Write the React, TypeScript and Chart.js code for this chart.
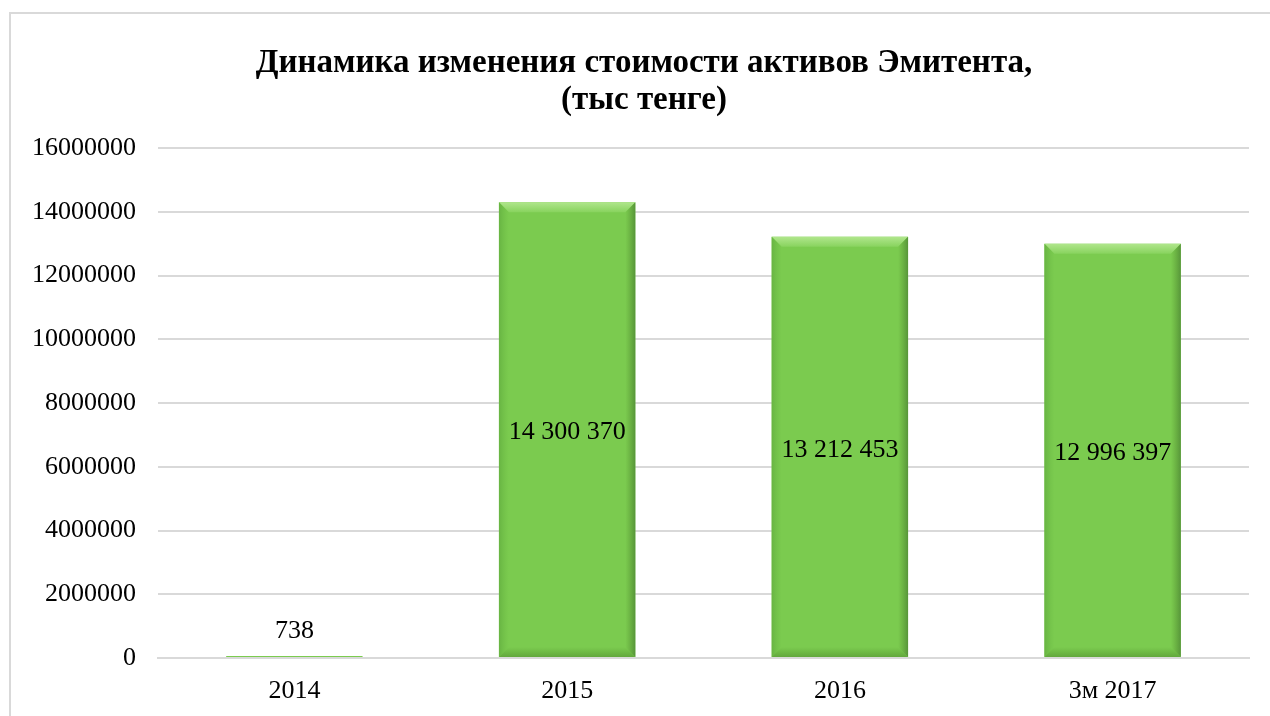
import React, { useEffect, useRef } from "react";
import { Chart, registerables } from "chart.js";

Chart.register(...registerables);

const categories = ["2014", "2015", "2016", "3м 2017"];
const assetValues = [738, 14300370, 13212453, 12996397];
const titleLines = ["Динамика изменения стоимости активов Эмитента,", "(тыс тенге)"];
const yMin = 0;
const yMax = 16000000;
const yStep = 2000000;

const FONT = "'Liberation Serif', 'Times New Roman', serif";

function fmt(v: number): string {
  return String(v).replace(/\B(?=(\d{3})+(?!\d))/g, " ");
}

const titlePlugin = {
  id: "customTitle",
  afterDraw(chart: any) {
    const ctx = chart.ctx;
    ctx.save();
    ctx.font = `bold 33px ${FONT}`;
    ctx.fillStyle = "#000000";
    ctx.textAlign = "center";
    ctx.textBaseline = "middle";
    const cx = 644;
    titleLines.forEach((line, i) => {
      ctx.fillText(line, cx, 63 + i * 37);
    });
    ctx.restore();
  },
};

const bevelPlugin = {
  id: "bevel",
  afterDatasetsDraw(chart: any) {
    const ctx = chart.ctx;
    const meta = chart.getDatasetMeta(0);
    meta.data.forEach((bar: any) => {
      const { x, y, base, width } = bar.getProps(["x", "y", "base", "width"], true);
      const left = x - width / 2;
      const right = x + width / 2;
      const top = Math.min(y, base);
      const bottom = Math.max(y, base);
      const h = bottom - top;
      const b = 10;
      if (h < 2 * b) return;
      ctx.save();
      let g = ctx.createLinearGradient(0, top, 0, top + b);
      g.addColorStop(0, "#b0e68c");
      g.addColorStop(1, "#88d35e");
      ctx.fillStyle = g;
      ctx.beginPath();
      ctx.moveTo(left, top);
      ctx.lineTo(right, top);
      ctx.lineTo(right - b, top + b);
      ctx.lineTo(left + b, top + b);
      ctx.closePath();
      ctx.fill();
      g = ctx.createLinearGradient(right - b, 0, right, 0);
      g.addColorStop(0, "rgba(95,160,55,0)");
      g.addColorStop(1, "#57953a");
      ctx.fillStyle = g;
      ctx.beginPath();
      ctx.moveTo(right, top);
      ctx.lineTo(right, bottom);
      ctx.lineTo(right - b, bottom - b);
      ctx.lineTo(right - b, top + b);
      ctx.closePath();
      ctx.fill();
      g = ctx.createLinearGradient(left, 0, left + b, 0);
      g.addColorStop(0, "#68b443");
      g.addColorStop(1, "rgba(110,190,70,0)");
      ctx.fillStyle = g;
      ctx.beginPath();
      ctx.moveTo(left, top);
      ctx.lineTo(left + b, top + b);
      ctx.lineTo(left + b, bottom - b);
      ctx.lineTo(left, bottom);
      ctx.closePath();
      ctx.fill();
      g = ctx.createLinearGradient(0, bottom - b, 0, bottom);
      g.addColorStop(0, "rgba(100,170,60,0)");
      g.addColorStop(1, "#62a83d");
      ctx.fillStyle = g;
      ctx.beginPath();
      ctx.moveTo(left, bottom);
      ctx.lineTo(right, bottom);
      ctx.lineTo(right - b, bottom - b);
      ctx.lineTo(left + b, bottom - b);
      ctx.closePath();
      ctx.fill();
      ctx.restore();
    });
  },
};

const labelPlugin = {
  id: "barLabels",
  afterDraw(chart: any) {
    const ctx = chart.ctx;
    const meta = chart.getDatasetMeta(0);
    const data = chart.data.datasets[0].data as number[];
    ctx.save();
    ctx.font = `26px ${FONT}`;
    ctx.fillStyle = "#000000";
    ctx.textAlign = "center";
    ctx.textBaseline = "middle";
    meta.data.forEach((bar: any, i: number) => {
      const { x, y, base } = bar.getProps(["x", "y", "base"], true);
      const h = Math.abs(base - y);
      const text = fmt(data[i]);
      if (h > 60) {
        ctx.fillText(text, x, (y + base) / 2 + 3);
      } else {
        ctx.fillText(text, x, y - 25);
      }
    });
    ctx.restore();
  },
};

function BarChart() {
  const ref = useRef<HTMLCanvasElement | null>(null);
  useEffect(() => {
    if (!ref.current) return;
    const chart = new Chart(ref.current, {
      type: "bar",
      data: {
        labels: categories,
        datasets: [
          {
            data: assetValues,
            backgroundColor: "#7bcb4f",
            borderWidth: 0,
            barPercentage: 0.5,
            categoryPercentage: 1,
            minBarLength: 2,
          },
        ],
      },
      options: {
        animation: false,
        responsive: false,
        maintainAspectRatio: false,
        layout: { padding: { left: 0, right: 21, top: 148, bottom: 0 } },
        plugins: {
          legend: { display: false },
          tooltip: { enabled: false },
          title: { display: false },
        },
        scales: {
          x: {
            grid: { display: false, drawTicks: false },
            border: { display: true, color: "#d9d9d9", width: 2 },
            ticks: {
              color: "#000000",
              font: { family: FONT, size: 26 },
              padding: 18,
            },
            afterFit: (s: any) => {
              s.height = 58;
            },
          },
          y: {
            min: yMin,
            max: yMax,
            grid: { color: "#d9d9d9", lineWidth: 2, drawTicks: false },
            border: { display: false },
            ticks: {
              stepSize: yStep,
              color: "#000000",
              font: { family: FONT, size: 26 },
              padding: 22,
              callback: (v: any) => String(v),
            },
            afterFit: (s: any) => {
              s.width = 158;
            },
          },
        },
      },
      plugins: [bevelPlugin, labelPlugin, titlePlugin],
    } as any);
    return () => chart.destroy();
  }, []);
  return <canvas ref={ref} width={1270} height={716} style={{ position: "absolute", left: 0, top: 0 }} />;
}

export default function App() {
  return (
    <div style={{ position: "fixed", left: 0, top: 0, width: 1270, height: 716, background: "#ffffff", overflow: "hidden" }}>
      <div
        style={{
          position: "absolute",
          left: 9,
          top: 12,
          width: 1300,
          height: 760,
          border: "2px solid #d9d9d9",
          boxSizing: "border-box",
        }}
      />
      <BarChart />
    </div>
  );
}
